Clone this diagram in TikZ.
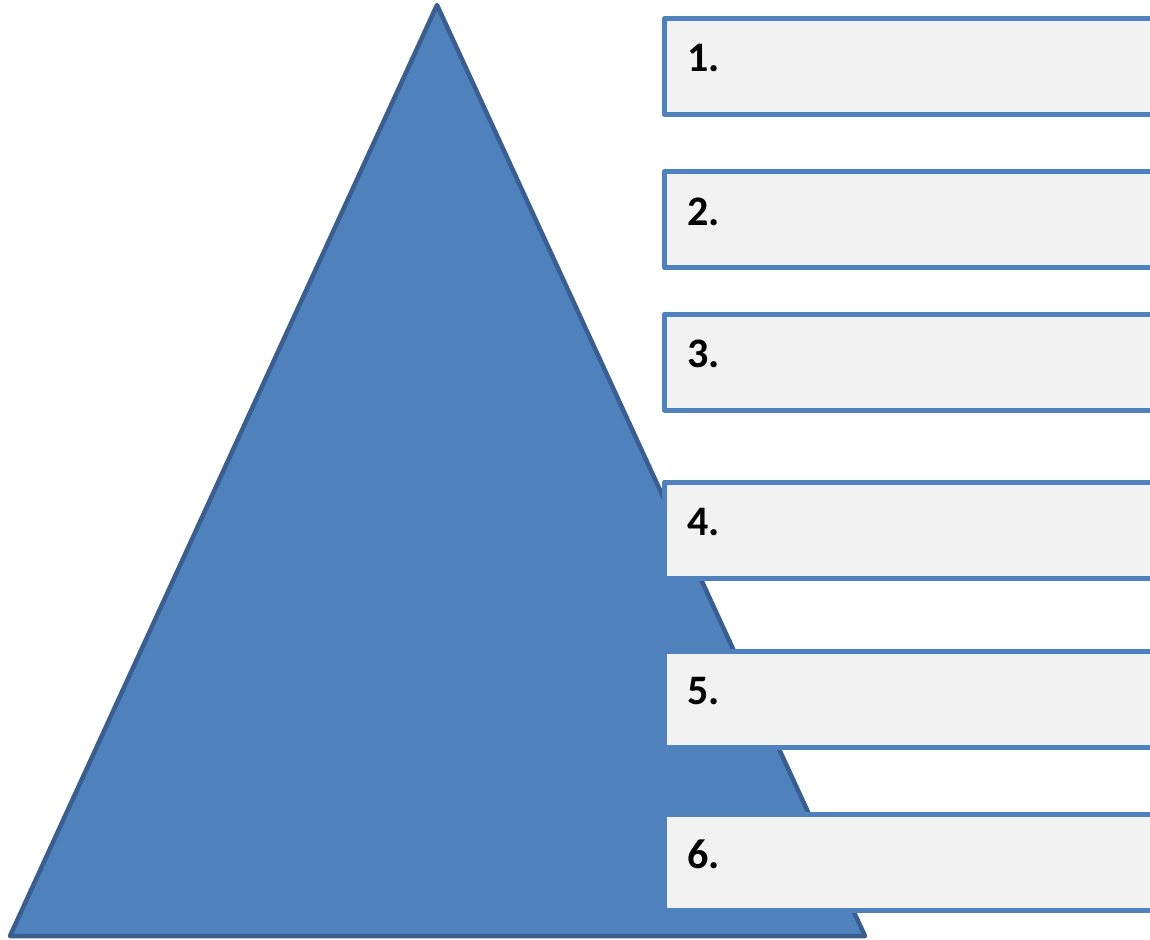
\documentclass[tikz,border=0pt]{standalone}
\usepackage{fontspec}
\setmainfont{Carlito}
\definecolor{tri}{HTML}{4F81BD}
\definecolor{triline}{HTML}{3A5F8E}
\definecolor{boxfill}{HTML}{F2F2F2}
\tikzset{
  numbox/.style={draw=tri, fill=boxfill, line width=5pt, line join=round,
    rectangle, inner sep=0pt, outer sep=0pt, anchor=north west,
    minimum width=500pt, minimum height=96pt},
  numtext/.style={anchor=base west, inner sep=0pt, font=\fontsize{42}{50}\selectfont\bfseries}
}
\begin{document}
\begin{tikzpicture}[x=1pt,y=-1pt]
\useasboundingbox (0,0) rectangle (1150,939);
\clip (0,0) rectangle (1150,939);
\draw[fill=tri, draw=triline, line width=4.5pt, line join=round]
  (437,5) coordinate (apex) -- (865,936) coordinate (br) -- (10,936) coordinate (bl) -- cycle;
\foreach \i/\t in {1/18.5, 2/171.5, 3/314, 4/482, 5/651, 6/814.5} {
  \node[numbox] (b\i) at (664.5,\t) {};
  \node[numtext] (t\i) at (687,\t+53.5) {\i.};
}
\end{tikzpicture}
\end{document}
